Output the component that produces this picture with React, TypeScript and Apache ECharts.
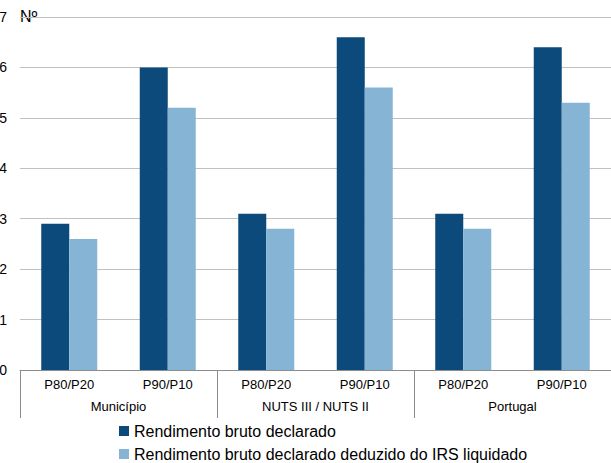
import React, { useEffect, useRef } from "react";
import * as echarts from "echarts";

const subCategories = ["P80/P20", "P90/P10", "P80/P20", "P90/P10", "P80/P20", "P90/P10"];
const groups = ["Município", "NUTS III / NUTS II", "Portugal"];
const seriesNames = ["Rendimento bruto declarado", "Rendimento bruto declarado deduzido do IRS liquidado"];
const brutoValues = [2.9, 6.0, 3.1, 6.6, 3.1, 6.4];
const liquidoValues = [2.6, 5.2, 2.8, 5.6, 2.8, 5.3];
const yTicks = { min: 0, max: 7, interval: 1 };

const FONT = "Liberation Sans, Arial, sans-serif";

export default function App() {
  const ref = useRef<HTMLDivElement>(null);
  useEffect(() => {
    if (!ref.current) return;
    const chart = echarts.init(ref.current, undefined, { renderer: "svg" });
    chart.setOption({
      animation: false,
      textStyle: { fontFamily: FONT },
      grid: { left: 20, right: 0, top: 17, bottom: 93, containLabel: false, outerBoundsMode: "none" },
      legend: {
        orient: "vertical",
        left: 114,
        top: 417,
        height: 60,
        itemWidth: 10,
        itemHeight: 10,
        itemGap: 5,
        icon: "rect",
        textStyle: { fontSize: 16, lineHeight: 18, color: "#000", fontFamily: FONT },
        data: seriesNames,
      },
      xAxis: [
        {
          type: "category",
          data: subCategories,
          position: "bottom",
          axisLine: { show: true, lineStyle: { color: "#8c8c8c", width: 1 } },
          axisTick: { show: false },
          axisLabel: { color: "#000", fontSize: 13, margin: 8, fontFamily: FONT },
        },
        {
          type: "category",
          data: groups,
          position: "bottom",
          axisLine: { show: false },
          axisTick: { show: true, length: 48, lineStyle: { color: "#8c8c8c", width: 1 } },
          axisLabel: { color: "#000", fontSize: 13, margin: 30, fontFamily: FONT },
        },
      ],
      yAxis: {
        type: "value",
        min: yTicks.min,
        max: yTicks.max,
        interval: yTicks.interval,
        axisLine: { show: false },
        axisTick: { show: false },
        splitLine: { lineStyle: { color: "#c0c0c0", width: 1 } },
        axisLabel: { color: "#000", fontSize: 14, margin: 13, fontFamily: FONT },
      },
      graphic: [
        { type: "rect", left: 20, top: 8, shape: { width: 18, height: 18 }, style: { fill: "#fff" } },
        {
          type: "text",
          left: 20,
          top: 8,
          style: { text: "Nº", fontSize: 16, fill: "#000", fontFamily: FONT },
        },
      ],
      series: [
        {
          name: seriesNames[0],
          type: "bar",
          xAxisIndex: 0,
          data: brutoValues,
          barWidth: 28,
          barGap: "0%",
          itemStyle: { color: "#0b4a7b" },
        },
        {
          name: seriesNames[1],
          type: "bar",
          xAxisIndex: 0,
          data: liquidoValues,
          barWidth: 28,
          barGap: "0%",
          itemStyle: { color: "#86b4d4" },
        },
      ],
    });
    return () => chart.dispose();
  }, []);
  return (
    <div
      ref={ref}
      style={{ position: "fixed", left: 0, top: 0, width: 611, height: 463, background: "#fff" }}
    />
  );
}
